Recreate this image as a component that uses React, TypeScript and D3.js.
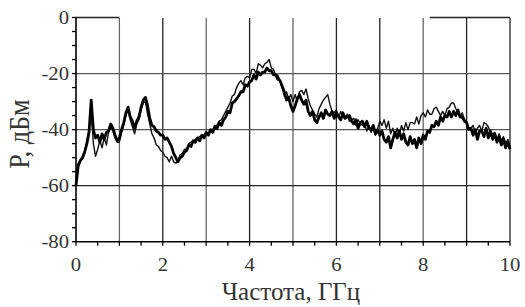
import React from "react";
import * as d3 from "d3";

const freqStep = 0.05;
const seriesThick: number[] = [
  -60, -53, -51, -50, -48, -45, -41, -29.5, -40, -43,
  -42, -44.5, -41.5, -43.5, -41, -40.5, -38, -39.5, -42, -44,
  -43, -40, -37.5, -34, -32, -35.5, -37, -39.5, -37, -35.5,
  -32, -29.5, -28.5, -31.5, -36, -38.5, -39, -40.5, -41, -42,
  -42, -43.5, -43, -44.5, -46, -48.5, -50, -51.5, -50, -49.5,
  -48, -47.5, -45.5, -46, -44, -44.5, -43, -44, -42, -43,
  -41, -42, -40, -41, -39, -39.5, -37.5, -38.5, -36.5, -35.5,
  -33.5, -34, -30.5, -30, -29, -28, -26.5, -26.5, -24, -24.5,
  -23, -22.5, -20.5, -22, -19.5, -20.5, -19.5, -19.5, -18, -19,
  -19, -20.5, -20.5, -22, -22.5, -24.5, -26.5, -29.5, -28.5, -31.5,
  -33.5, -31.5, -29, -27.5, -29.5, -31, -29.5, -33.5, -35, -33.5,
  -36.5, -37.5, -35.5, -34, -36, -33, -34.5, -35, -33.5, -36,
  -34, -35.5, -36.5, -34, -36, -35.5, -35, -37, -38, -36.5,
  -39.5, -37.5, -37, -39, -37, -39.5, -40, -38.5, -41.5, -40,
  -42, -40.5, -43.5, -44.5, -42.5, -46.5, -43.5, -41, -43, -40.5,
  -43.5, -41.5, -44.5, -45.5, -42.5, -45, -43.5, -46.5, -43, -45,
  -42, -43.5, -40.5, -41, -38.5, -39, -37, -38.5, -35.5, -37,
  -35, -35.5, -33.5, -35.5, -33.5, -35, -33, -35.5, -35.5, -37,
  -37.5, -40, -39.5, -42, -40, -43.5, -40.5, -40.5, -42.5, -39.5,
  -43, -40.5, -43.5, -41.5, -44.5, -42.5, -45.5, -43.5, -46.5, -44.5,
  -47,
];
const seriesThin: number[] = [
  -58, -52, -51, -50.5, -48, -44, -40, -33, -45, -49.5,
  -47, -44, -46.5, -43, -45.5, -41, -39, -40.5, -43, -44.5,
  -44.5, -41, -38.5, -35, -33, -36.5, -39, -41.5, -38, -36.5,
  -33, -30.5, -30, -34.5, -38, -41.5, -43, -45.5, -46, -47.5,
  -48, -49.5, -50, -51.5, -49.5, -51.5, -52, -51, -49, -48.5,
  -47, -47, -45, -44.5, -44, -43.5, -43, -42.5, -42, -42,
  -41, -41.5, -40, -40, -38.5, -38.5, -37, -36.5, -35, -33.5,
  -32, -30.5, -28, -27.5, -25, -23.5, -22.5, -24, -21.5, -21,
  -21.5, -18.5, -18.5, -20, -16.5, -17, -18, -16.5, -16, -15,
  -18, -18.5, -20.5, -20.5, -22.5, -25, -28, -26.5, -29, -27.5,
  -30, -27.5, -30, -26.5, -26, -27.5, -25.5, -29, -31.5, -33,
  -34.5, -35.5, -32.5, -31, -29.5, -28.5, -27.5, -31, -33.5, -34,
  -33, -35.5, -33.5, -35.5, -36, -34.5, -37, -36.5, -36, -38.5,
  -36.5, -38, -38.5, -38, -40.5, -38.5, -41, -39.5, -42, -39.5,
  -37, -38.5, -36.5, -39.5, -37, -41.5, -39.5, -42, -39.5, -42,
  -38.5, -40.5, -37.5, -40, -37.5, -37.5, -38, -35.5, -38, -35,
  -34, -35.5, -33, -34.5, -34.5, -32.5, -32, -33.5, -35, -33.5,
  -35, -32.5, -32, -30.5, -30.5, -32.5, -33.5, -35.5, -34, -36.5,
  -37, -39.5, -39.5, -38.5, -41.5, -39.5, -38.5, -40.5, -37.5, -38,
  -39, -41, -41.5, -41, -43.5, -41.5, -44, -42.5, -45, -43.5,
  -46,
];
const xTickLabels = [0, 2, 4, 6, 8, 10];
const yTickLabels = [-80, -60, -40, -20, 0];
const xGrid = [1, 2, 3, 4, 5, 6, 7, 8, 9, 10];
const yGrid = [-20, -40, -60];
const xTitle = "Частота, ГГц";
const yTitle = "Р, дБм";

export default function App() {
  const W = 525, H = 307;
  const left = 76, right = 510, top = 17.5, bottom = 241.7;
  const x = d3.scaleLinear().domain([0, 10]).range([left, right]);
  const y = d3.scaleLinear().domain([-80, 0]).range([bottom, top]);
  const mk = (arr: number[]) =>
    d3.line<number>().x((_, i) => x(i * freqStep)).y((d) => y(d))(arr) || "";
  const minorX = d3.range(0, 10.01, 0.5);
  const minorY = d3.range(-80, 0.01, 5);
  const fontStyle = { fontFamily: "'Liberation Serif'" };
  const gridColor = (v: number) => ([1, 3, 5, 8].includes(v) ? "#666" : "#222");
  return (
    <svg width={W} height={H} style={{ position: "absolute", left: 0, top: 0, background: "#fff" }}>
      <rect x={0} y={0} width={W} height={H} fill="#fff" />
      {xGrid.map((v) => (
        <line key={"gx" + v} x1={x(v)} x2={x(v)} y1={y(0) + 0.5} y2={y(-80)} stroke={gridColor(v)} strokeWidth={1.3} />
      ))}
      {yGrid.map((v) => (
        <line key={"gy" + v} x1={x(0)} x2={x(10)} y1={y(v)} y2={y(v)} stroke={v === -60 ? "#222" : "#555"} strokeWidth={1.3} />
      ))}
      <line x1={x(0)} x2={x(1)} y1={y(0)} y2={y(0)} stroke="#222" strokeWidth={1.5} />
      <line x1={x(8.15)} x2={x(10)} y1={y(0)} y2={y(0)} stroke="#222" strokeWidth={1.5} />
      <line x1={x(0)} x2={x(0)} y1={y(0)} y2={y(-80)} stroke="#000" strokeWidth={1.6} />
      <line x1={x(0)} x2={x(10)} y1={y(-80)} y2={y(-80)} stroke="#000" strokeWidth={1.6} />
      {minorX.map((v) => (
        <line key={"mx" + v} x1={x(v)} x2={x(v)} y1={y(-80)} y2={y(-80) + 4} stroke="#000" strokeWidth={1.3} />
      ))}
      {minorY.map((v) => (
        <line key={"my" + v} x1={x(0) - 4} x2={x(0)} y1={y(v)} y2={y(v)} stroke="#000" strokeWidth={1.3} />
      ))}
      <path d={mk(seriesThin)} fill="none" stroke="#111" strokeWidth={1.4} strokeLinejoin="round" />
      <path d={mk(seriesThick)} fill="none" stroke="#000" strokeWidth={2.8} strokeLinejoin="round" />
      {xTickLabels.map((v) => (
        <text key={"xl" + v} transform={`translate(${x(v)},${271}) scale(1.15,1)`} textAnchor="middle" style={fontStyle} fontSize={18} fill="#333">
          {v}
        </text>
      ))}
      {yTickLabels.map((v) => (
        <text key={"yl" + v} transform={`translate(${69},${y(v) + 6}) scale(1.15,1)`} textAnchor="end" style={fontStyle} fontSize={18} fill="#333">
          {v}
        </text>
      ))}
      <text transform={`translate(${291},${300})`} textAnchor="middle" style={fontStyle} fontSize={25} fill="#333">
        {xTitle}
      </text>
      <text transform={`translate(${29},${134}) rotate(-90) scale(1.05,1.15)`} textAnchor="middle" style={fontStyle} fontSize={25} fill="#333">
        {yTitle}
      </text>
    </svg>
  );
}
